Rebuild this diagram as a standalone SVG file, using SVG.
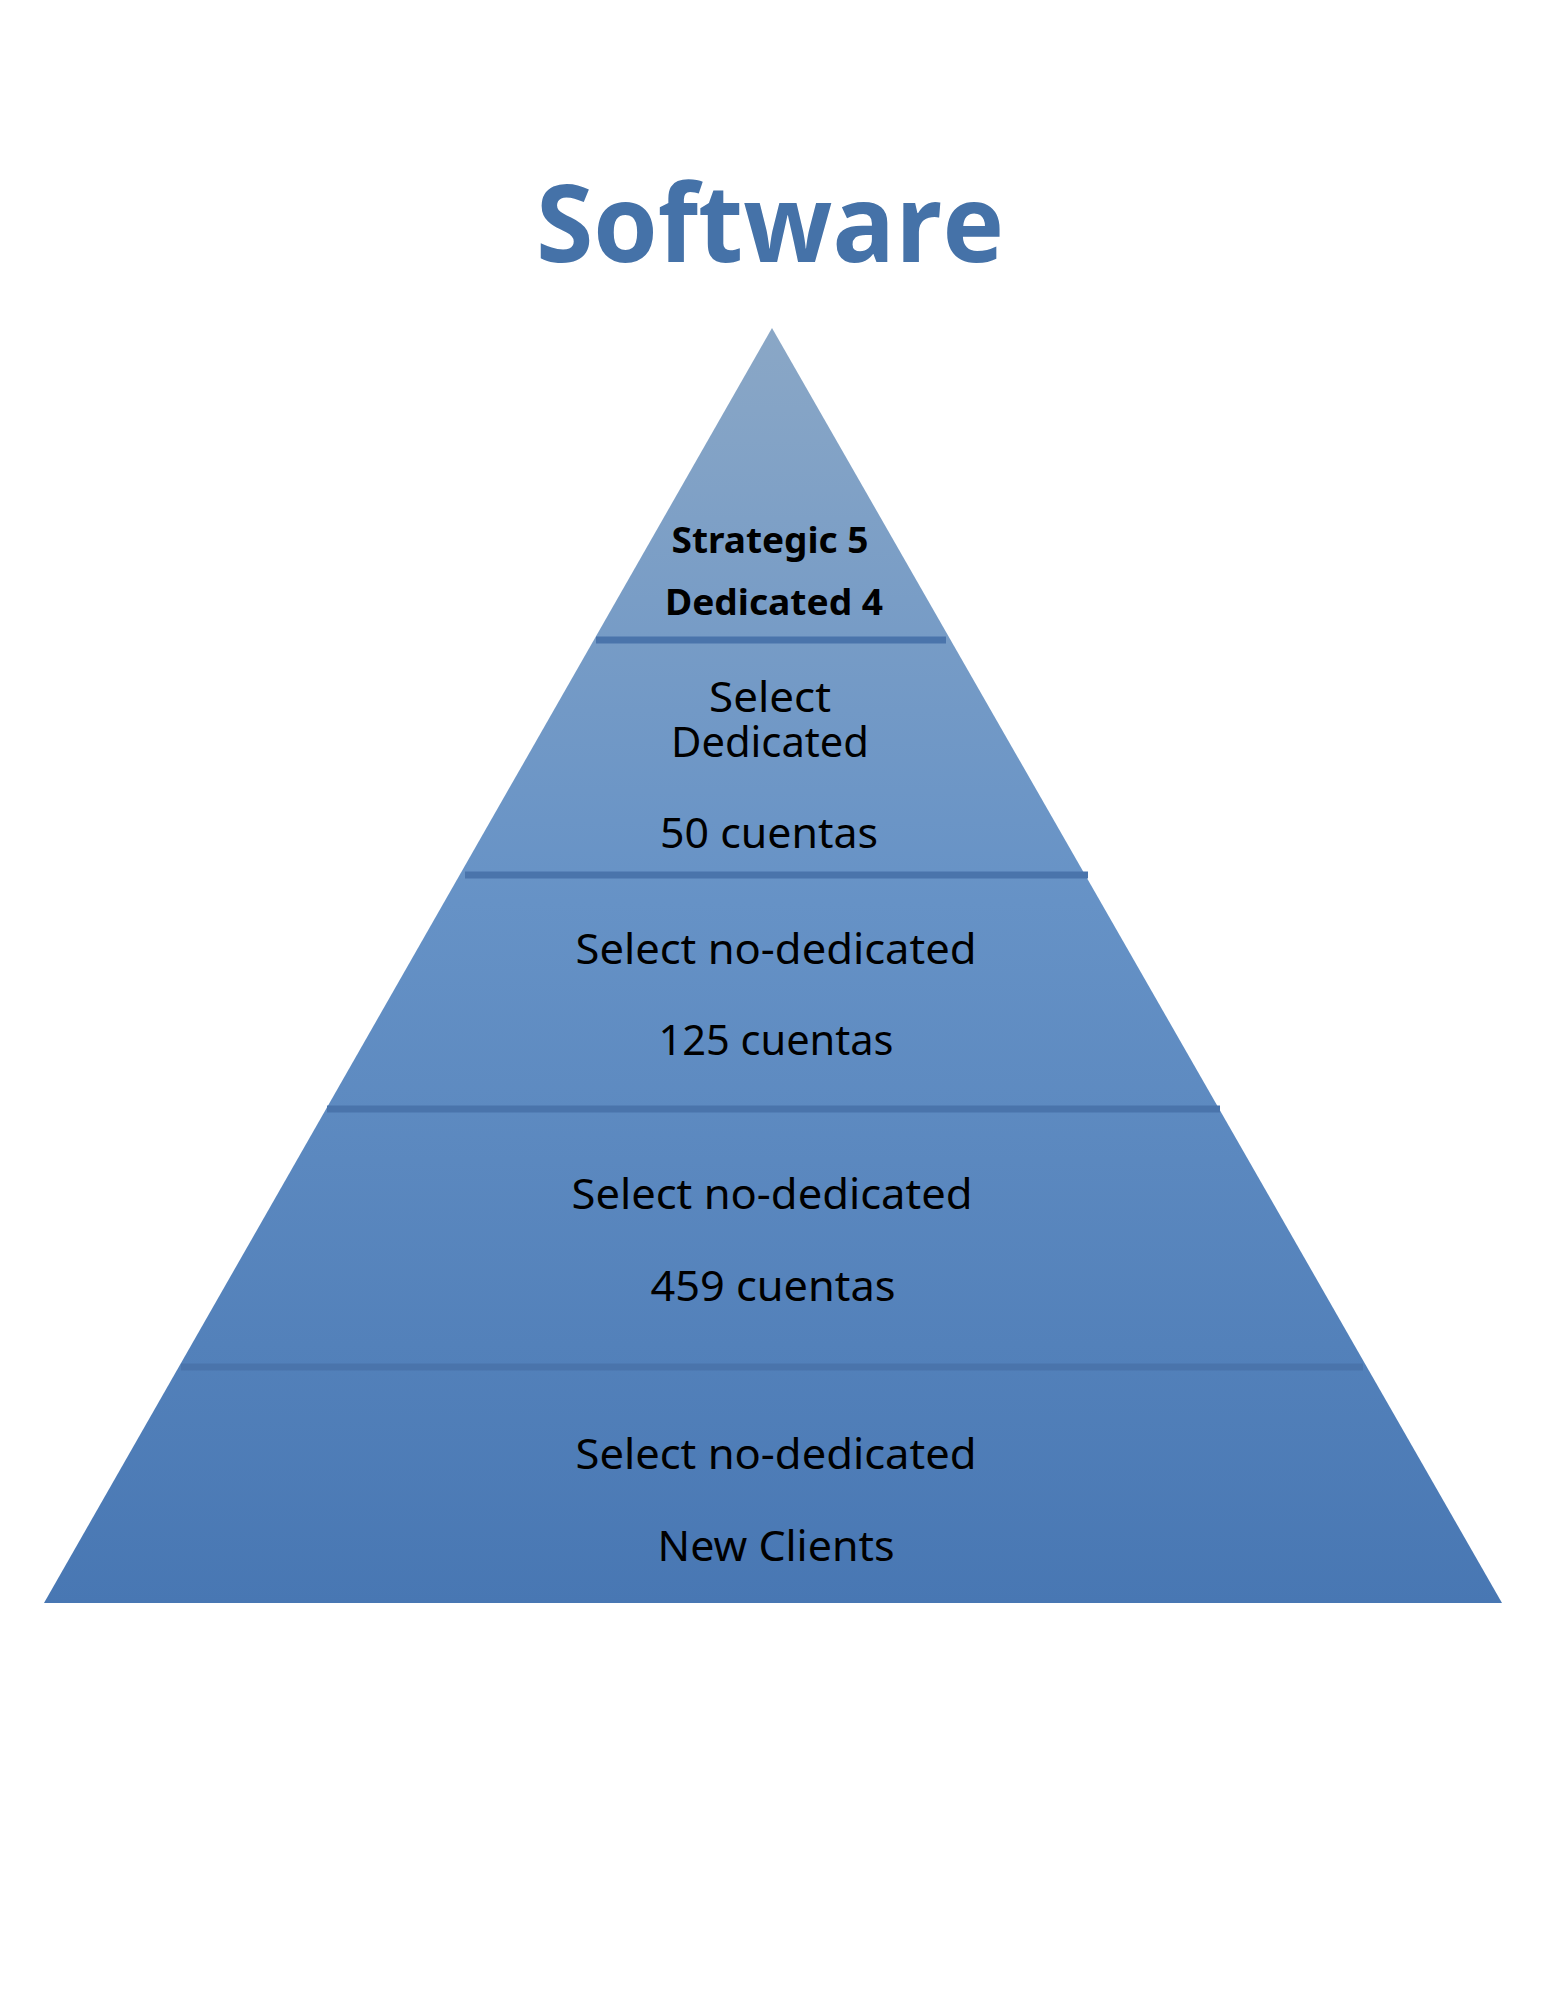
<svg xmlns="http://www.w3.org/2000/svg" width="1545" height="2000" viewBox="0 0 1545 2000">
  <style>
    .title { font-family: "Open Sans", "Noto Sans", "Liberation Sans", sans-serif; font-weight: 700; font-size: 107px; fill: #4572a8; }
    .lbl { font-family: "Noto Sans", "Open Sans", "Liberation Sans", sans-serif; font-size: 42px; fill: #000; }
    .bold { font-family: "Noto Sans", "Open Sans", "Liberation Sans", sans-serif; font-size: 35px; font-weight: 700; fill: #000; }
    .div { stroke: #4a74ab; stroke-width: 7; fill: none; }
  </style>
  <defs>
    <linearGradient id="pg" x1="0" y1="0" x2="0" y2="1">
      <stop offset="0" stop-color="#8aa7c6"/>
      <stop offset="0.45" stop-color="#6692c6"/>
      <stop offset="1" stop-color="#4877b3"/>
    </linearGradient>
  </defs>
  <rect width="1545" height="2000" fill="#ffffff"/>
  <g id="title">
    <text class="title" x="770" y="262" text-anchor="middle" textLength="468" lengthAdjust="spacingAndGlyphs">Software</text>
  </g>
  <g id="pyramid">
    <polygon points="772,328 1502,1603 44,1603" fill="url(#pg)"/>
  </g>
  <g id="connectors">
    <line class="div" x1="596" y1="640" x2="946" y2="640"/>
    <line class="div" x1="465" y1="875" x2="1088" y2="875"/>
    <line class="div" x1="327" y1="1109" x2="1220" y2="1109"/>
    <line class="div" x1="181" y1="1367" x2="1363" y2="1367"/>
  </g>
  <g id="tier1">
    <text class="bold" x="770" y="553" text-anchor="middle" textLength="197" lengthAdjust="spacingAndGlyphs">Strategic 5</text>
    <text class="bold" x="774" y="615" text-anchor="middle" textLength="218" lengthAdjust="spacingAndGlyphs">Dedicated 4</text>
  </g>
  <g id="tier2">
    <text class="lbl" x="770" y="712" text-anchor="middle" textLength="122" lengthAdjust="spacingAndGlyphs">Select</text>
    <text class="lbl" x="770" y="757" text-anchor="middle" textLength="198" lengthAdjust="spacingAndGlyphs">Dedicated</text>
    <text class="lbl" x="769" y="848" text-anchor="middle" textLength="218" lengthAdjust="spacingAndGlyphs">50 cuentas</text>
  </g>
  <g id="tier3">
    <text class="lbl" x="776" y="964" text-anchor="middle" textLength="401" lengthAdjust="spacingAndGlyphs">Select no-dedicated</text>
    <text class="lbl" x="776" y="1055" text-anchor="middle" textLength="235" lengthAdjust="spacingAndGlyphs">125 cuentas</text>
  </g>
  <g id="tier4">
    <text class="lbl" x="772" y="1209" text-anchor="middle" textLength="401" lengthAdjust="spacingAndGlyphs">Select no-dedicated</text>
    <text class="lbl" x="773" y="1301" text-anchor="middle" textLength="245" lengthAdjust="spacingAndGlyphs">459 cuentas</text>
  </g>
  <g id="tier5">
    <text class="lbl" x="776" y="1469" text-anchor="middle" textLength="401" lengthAdjust="spacingAndGlyphs">Select no-dedicated</text>
    <text class="lbl" x="776" y="1561" text-anchor="middle" textLength="237" lengthAdjust="spacingAndGlyphs">New Clients</text>
  </g>
</svg>
